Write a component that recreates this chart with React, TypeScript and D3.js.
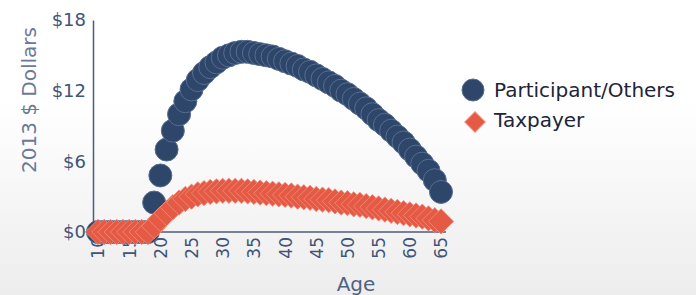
import React, { useEffect, useRef } from 'react';
import * as d3 from 'd3';

// Ages shown on the x axis
const ages = d3.range(10, 66);
const ageTicks = [10, 15, 20, 25, 30, 35, 40, 45, 50, 55, 60, 65];
const dollarTicks = [0, 6, 12, 18];

// Values in 2013 dollars, one per age from 10 to 65
const participant = [
  0, 0, 0, 0, 0, 0, 0, 0, 0, 2.5,
  4.8, 7.0, 8.6, 10.0, 11.1, 12.1, 12.9, 13.5, 14.0, 14.4,
  14.8, 15.0, 15.2, 15.3, 15.3, 15.2, 15.1, 15.0, 14.9, 14.7,
  14.5, 14.3, 14.1, 13.8, 13.6, 13.3, 13.0, 12.7, 12.4, 12.0,
  11.7, 11.3, 10.9, 10.5, 10.0, 9.5, 9.1, 8.6, 8.1, 7.6,
  7.0, 6.4, 5.8, 5.2, 4.4, 3.4,
];
const taxpayer = [
  0, 0, 0, 0, 0, 0, 0, 0, 0, 0.5,
  1.1, 1.6, 2.1, 2.5, 2.8, 3.0, 3.2, 3.3, 3.4, 3.45,
  3.5, 3.5, 3.5, 3.5, 3.45, 3.4, 3.35, 3.3, 3.25, 3.2,
  3.15, 3.1, 3.0, 2.95, 2.9, 2.8, 2.75, 2.7, 2.6, 2.5,
  2.45, 2.35, 2.3, 2.2, 2.1, 2.0, 1.9, 1.8, 1.7, 1.6,
  1.5, 1.4, 1.3, 1.15, 1.0, 0.9,
];
const seriesNames = ['Participant/Others', 'Taxpayer'];

const width = 696;
const height = 295;
const font = 'DejaVu Sans, Verdana, sans-serif';
const axisColor = '#4b5d7c';
const navy = '#2d4669';
const coral = '#e55a45';

const App: React.FC = () => {
  const svgRef = useRef<SVGSVGElement>(null);

  useEffect(() => {
    const svg = d3.select(svgRef.current);
    svg.selectAll('*').remove();

    // Background: white on top fading to light grey
    const grad = svg.append('defs').append('linearGradient')
      .attr('id', 'bg').attr('x1', 0).attr('y1', 0).attr('x2', 0).attr('y2', 1);
    grad.append('stop').attr('offset', '0%').attr('stop-color', '#ffffff');
    grad.append('stop').attr('offset', '35%').attr('stop-color', '#ffffff');
    grad.append('stop').attr('offset', '100%').attr('stop-color', '#ededed');
    svg.append('rect').attr('width', width).attr('height', height).attr('fill', 'url(#bg)');

    const x = d3.scalePoint<number>().domain(ages).range([93, 446]).padding(0.8);
    const y = d3.scaleLinear().domain([0, 18]).range([232, 20]);

    // Y axis
    const yAxis = svg.append('g')
      .attr('transform', 'translate(93,0)')
      .call(d3.axisLeft(y).tickValues(dollarTicks).tickSize(0).tickPadding(7)
        .tickFormat((d) => `$${d}`));
    yAxis.select('.domain').attr('stroke', axisColor).attr('stroke-width', 1.5);
    yAxis.selectAll('text')
      .attr('font-family', font).attr('font-size', 18).attr('fill', '#3f5479');

    // X axis
    const xAxis = svg.append('g')
      .attr('transform', 'translate(0,232)')
      .call(d3.axisBottom(x).tickValues(ageTicks).tickSize(0).tickPadding(0));
    xAxis.select('.domain').attr('stroke', axisColor).attr('stroke-width', 1.5)
      .attr('d', `M93,0H446`);
    xAxis.selectAll('text')
      .attr('font-family', font).attr('font-size', 17).attr('fill', '#3f5479')
      .attr('text-anchor', 'end')
      .attr('transform', 'translate(0,5) rotate(-90)')
      .attr('x', 0).attr('y', 0).attr('dy', '0.35em');

    // Axis titles
    svg.append('text')
      .attr('transform', 'translate(36,100) rotate(-90)')
      .attr('text-anchor', 'middle')
      .attr('font-family', font).attr('font-size', 20).attr('fill', '#6a7a97')
      .text('2013 $ Dollars');
    svg.append('text')
      .attr('x', 356).attr('y', 291)
      .attr('text-anchor', 'middle')
      .attr('font-family', font).attr('font-size', 20).attr('fill', '#4f6282')
      .text('Age');

    const diamond = d3.symbol().type(d3.symbolSquare).size(320);

    // Participant circles
    svg.append('g')
      .selectAll('circle')
      .data(participant)
      .join('circle')
      .attr('cx', (d, i) => x(ages[i]) ?? 0)
      .attr('cy', (d) => y(d))
      .attr('r', 11.5)
      .attr('fill', navy)
      .attr('stroke', '#566e91')
      .attr('stroke-width', 1);

    // Taxpayer diamonds
    svg.append('g')
      .selectAll('path')
      .data(taxpayer)
      .join('path')
      .attr('d', diamond)
      .attr('transform', (d, i) => `translate(${x(ages[i])},${y(d)}) rotate(45)`)
      .attr('fill', coral)
      .attr('stroke', '#f08a78')
      .attr('stroke-width', 0.8);

    // Legend
    const legend = svg.append('g');
    legend.append('circle')
      .attr('cx', 473).attr('cy', 90).attr('r', 11)
      .attr('fill', navy).attr('stroke', '#566e91');
    legend.append('path')
      .attr('d', d3.symbol().type(d3.symbolSquare).size(210))
      .attr('transform', 'translate(475,122) rotate(45)')
      .attr('fill', coral).attr('stroke', '#f08a78');
    legend.selectAll('text.item')
      .data(seriesNames)
      .join('text')
      .attr('class', 'item')
      .attr('x', 494)
      .attr('y', (d, i) => 97 + i * 30)
      .attr('font-family', font).attr('font-size', 20).attr('fill', '#1e2438')
      .text((d) => d);
  }, []);

  return (
    <svg
      ref={svgRef}
      width={width}
      height={height}
      style={{ position: 'absolute', left: 0, top: 0 }}
    />
  );
};

export default App;
